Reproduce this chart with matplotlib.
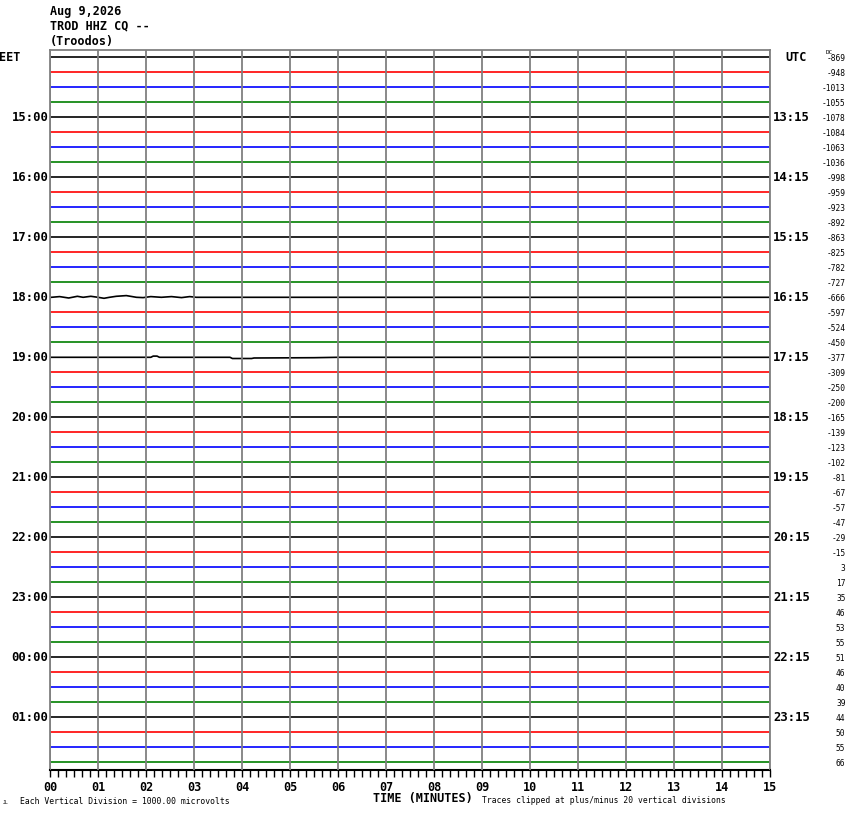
import matplotlib
matplotlib.use("Agg")
import matplotlib.pyplot as plt
from matplotlib.ticker import MultipleLocator, FixedLocator

# ---------------- data ----------------
date_text = "Aug 9,2026"
station_text = "TROD HHZ CQ --"
location_text = "(Troodos)"

eet_hour_labels = ["15:00", "16:00", "17:00", "18:00", "19:00", "20:00",
                   "21:00", "22:00", "23:00", "00:00", "01:00"]
utc_hour_labels = ["13:15", "14:15", "15:15", "16:15", "17:15", "18:15",
                   "19:15", "20:15", "21:15", "22:15", "23:15"]

dc_values = [-869, -948, -1013, -1055, -1078, -1084, -1063, -1036,
             -998, -959, -923, -892, -863, -825, -782, -727,
             -666, -597, -524, -450, -377, -309, -250, -200,
             -165, -139, -123, -102, -81, -67, -57, -47,
             -29, -15, 3, 17, 35, 46, 53, 55,
             51, 46, 40, 39, 44, 50, 55, 66]

minute_labels = ["00", "01", "02", "03", "04", "05", "06", "07",
                 "08", "09", "10", "11", "12", "13", "14", "15"]

trace_colors = ["#000000", "#ff0000", "#0000ff", "#007f00"]

# default flat trace (minutes, offset)
flat_minutes = [0, 15]
flat_offsets = [0, 0]

# 18:00 EET trace (index 16): small wiggle in the first three minutes
wiggle_1800_minutes = [0, 0.03, 0.20, 0.39, 0.57, 0.69, 0.85, 1.00, 1.125,
                       1.24, 1.38, 1.59, 1.80, 1.94, 2.10, 2.32, 2.53, 2.74,
                       2.91, 3.05, 15]
wiggle_1800_offsets = [0, 0, 0.7, -0.7, 1.0, 0, 1.0, 0, -1.0,
                       0, 1.0, 1.7, 0, -0.3, 0.7, 0, 0.7, -0.3,
                       0.7, 0, 0]

# 19:00 EET trace (index 20): small bump and sag
sag_1900_minutes = [0, 2.10, 2.15, 2.23, 2.28, 3.75, 3.80, 4.20, 4.25, 5.5, 6.0, 15]
sag_1900_offsets = [0, 0, 1.2, 1.2, 0, 0, -1.2, -1.2, -0.7, -0.4, 0, 0]

special_traces = {16: (wiggle_1800_minutes, wiggle_1800_offsets),
                  20: (sag_1900_minutes, sag_1900_offsets)}

n_traces = len(dc_values)

# ---------------- figure ----------------
W, H = 850, 814
fig = plt.figure(figsize=(W / 100, H / 100), dpi=100)
fig.patch.set_facecolor("white")

ax_left, ax_right, ax_top, ax_bottom = 50, 770, 50, 770
ax = fig.add_axes([ax_left / W, 1 - ax_bottom / H,
                   (ax_right - ax_left) / W, (ax_bottom - ax_top) / H])
ax.set_axisbelow(False)

first_trace_px = 57.3
spacing_px = 15.0

ax.set_xlim(0, 15)
ax.set_ylim((ax_bottom - first_trace_px) / spacing_px,
            (ax_top - first_trace_px) / spacing_px)

for i in range(n_traces):
    mins, offs = special_traces.get(i, (flat_minutes, flat_offsets))
    ys = [i - o / spacing_px for o in offs]
    ax.plot(mins, ys, color=trace_colors[i % 4], lw=1.2,
            solid_capstyle="butt", zorder=1)

# grid and spines
ax.xaxis.set_major_locator(FixedLocator(range(16)))
ax.xaxis.set_minor_locator(MultipleLocator(1 / 6))
ax.xaxis.grid(True, which="major", color="#808080", lw=1.3, zorder=4)
ax.set_yticks([])
for s in ["left", "right", "top"]:
    ax.spines[s].set_color("#808080")
    ax.spines[s].set_linewidth(1.3)
ax.spines["bottom"].set_color("black")
ax.spines["bottom"].set_linewidth(1.5)
ax.tick_params(axis="x", which="both", direction="out", length=5.2,
               width=1.0, color="black", pad=2.5)
ax.set_xticklabels(minute_labels, fontfamily="DejaVu Sans Mono",
                   fontweight="bold", fontsize=8.5)


def ftext(x, y, s, **kw):
    fig.text(x / W, 1 - y / H, s, **kw)


mono_b = dict(fontfamily="DejaVu Sans Mono", fontweight="bold")
mono = dict(fontfamily="DejaVu Sans Mono")

# header
ftext(50, 11.7, date_text, fontsize=8.5, va="center", ha="left", **mono_b)
ftext(50, 26.4, station_text, fontsize=8.5, va="center", ha="left", **mono_b)
ftext(50, 41.5, location_text, fontsize=8.5, va="center", ha="left", **mono_b)

# left / right labels
ftext(-1, first_trace_px, "EET", fontsize=8.5, va="center", ha="left", **mono_b)
ftext(785, first_trace_px, "UTC", fontsize=8.5, va="center", ha="left", **mono_b)
for k, (el, ul) in enumerate(zip(eet_hour_labels, utc_hour_labels)):
    y = first_trace_px + spacing_px * 4 * (k + 1)
    ftext(48.5, y + 0.5, el, fontsize=8.8, va="center", ha="right", **mono_b)
    ftext(773, y + 0.5, ul, fontsize=8.8, va="center", ha="left", **mono_b)

# DC values
ftext(826, 52.5, "DC", fontsize=4.3, va="center", ha="left", **mono)
for i, v in enumerate(dc_values):
    ftext(845.5, first_trace_px + spacing_px * i + 1, str(v), fontsize=5.7,
          va="center", ha="right", **mono)

# footer
ftext(373, 798.5, "TIME (MINUTES)", fontsize=8.5, va="center", ha="left", **mono_b)
ftext(482, 800.5, "Traces clipped at plus/minus 20 vertical divisions",
      fontsize=5.8, va="center", ha="left", **mono)
ftext(20.5, 801, "Each Vertical Division = 1000.00 microvolts",
      fontsize=5.9, va="center", ha="left", **mono)
ftext(2.5, 802, "JL", fontsize=3.5, va="center", ha="left", **mono)

fig.savefig("out.png", dpi=100, facecolor="white")
